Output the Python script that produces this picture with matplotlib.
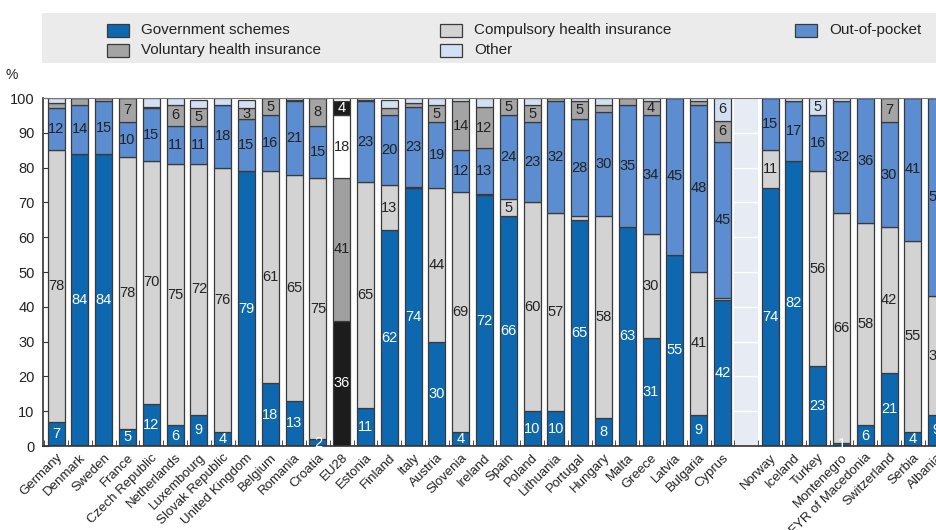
import matplotlib
matplotlib.use("Agg")
import matplotlib.pyplot as plt
from matplotlib.patches import Rectangle
import numpy as np

plt.rcParams['font.family'] = ['Liberation Sans Narrow', 'Liberation Sans', 'DejaVu Sans']

countries = ["Germany", "Denmark", "Sweden", "France", "Czech Republic", "Netherlands",
             "Luxembourg", "Slovak Republic", "United Kingdom", "Belgium", "Romania",
             "Croatia", "EU28", "Estonia", "Finland", "Italy", "Austria", "Slovenia",
             "Ireland", "Spain", "Poland", "Lithuania", "Portugal", "Hungary", "Malta",
             "Greece", "Latvia", "Bulgaria", "Cyprus",
             "Norway", "Iceland", "Turkey", "Montenegro", "FYR of Macedonia",
             "Switzerland", "Serbia", "Albania"]

government = [7, 84, 84, 5, 12, 6, 9, 4, 79, 18, 13, 2, 36, 11, 62, 74, 30, 4, 72, 66,
              10, 10, 65, 8, 63, 31, 55, 9, 42,
              74, 82, 23, 1, 6, 21, 4, 9]
compulsory = [78, 0, 0, 78, 70, 75, 72, 76, 0, 61, 65, 75, 41, 65, 13, 0.3, 44, 69, 0.5, 5,
              60, 57, 1, 58, 0, 30, 0, 41, 0.5,
              11, 0, 56, 66, 58, 42, 55, 34]
out_of_pocket = [12, 14, 15, 10, 15, 11, 11, 18, 15, 16, 21, 15, 18, 23, 20, 23, 19, 12, 13, 24,
                 23, 32, 28, 30, 35, 34, 45, 48, 45,
                 15, 17, 16, 32, 36, 30, 41, 57]
voluntary = [1.5, 2, 1, 7, 0.5, 6, 5, 0, 3, 5, 0.5, 8, 4, 0.3, 2, 1.2, 5, 14, 12, 5,
             5, 1, 5, 2, 2, 4, 0, 1, 6,
             0, 0, 0, 0, 0, 7, 0, 0]
other = [1.5, 0, 0, 0, 2.5, 2, 2.4, 2, 2.4, 0, 0.5, 0, 1, 0.7, 2.4, 1.5, 2, 1, 2.4, 0,
         2, 0, 1, 2, 0, 1, 0, 1, 6.5,
         0, 1, 5, 1, 0, 0, 0, 0]

series_names = ["Government schemes", "Compulsory health insurance", "Out-of-pocket",
                "Voluntary health insurance", "Other"]
colors = ["#0d68b0", "#d3d3d3", "#5b8dd0", "#a4a4a4", "#d3dff2"]
eu_colors = ["#1c1c1c", "#a0a0a0", "#ffffff", "#1c1c1c", "#ffffff"]
text_colors = ["white", "#222222", "#222222", "#222222", "#222222"]
eu_text_colors = ["white", "#222222", "#222222", "white", "#222222"]

W, H = 936, 530
fig = plt.figure(figsize=(W / 100, H / 100), dpi=100)

# positions: gap slot after Cyprus
n_eu = countries.index("Cyprus") + 1
pos = np.array([i if i < n_eu else i + 1 for i in range(len(countries))], dtype=float)
gap_pos = n_eu

xmin, xmax = -0.55, 38.5
ax_left = 43 / W
ax_bottom = (H - 446) / H
ax_h = (446 - 98) / H
ax_w = (xmax - xmin) * 23.8 / W
ax = fig.add_axes([ax_left, ax_bottom, ax_w, ax_h])

# separator band
ax.axvspan(gap_pos - 0.5, gap_pos + 0.5, color="#e7ecf4", zorder=0, lw=0)
for yv in range(10, 100, 10):
    ax.axhline(yv, color="white", lw=1, zorder=0.5)

data = [government, compulsory, out_of_pocket, voluntary, other]
bottom = np.zeros(len(countries))
width = 0.72
for s, vals in enumerate(data):
    vals = np.array(vals, dtype=float)
    cols = [eu_colors[s] if c == "EU28" else colors[s] for c in countries]
    ax.bar(pos, vals, width=width, bottom=bottom, color=cols, edgecolor="#3a3a3a",
           linewidth=0.9, zorder=2)
    for i, v in enumerate(vals):
        show = v >= 3 or (s == 0 and v >= 1)
        if show:
            tc = eu_text_colors[s] if countries[i] == "EU28" else text_colors[s]
            ax.text(pos[i], bottom[i] + v / 2, f"{int(round(v))}", ha="center", va="center",
                    fontsize=10.5, color=tc, zorder=3)
    bottom += vals

ax.set_xlim(xmin, xmax)
ax.set_ylim(0, 100)
ax.set_yticks(range(0, 101, 10))
ax.tick_params(axis="y", direction="in", length=4, labelsize=10.5, colors="#333333",
               labelcolor="#222222", pad=6)
ax.set_xticks(pos)
ax.set_xticklabels(countries, rotation=45, ha="right", rotation_mode="anchor", fontsize=9.5,
                   color="#222222")
ax.tick_params(axis="x", which="major", length=0, pad=4)
ax.set_xticks(np.arange(-0.5, 38.5, 1.0), minor=True)
ax.tick_params(axis="x", which="minor", direction="in", length=4, color="#333333")
for sp in ["left", "bottom"]:
    ax.spines[sp].set_color("#333333")
    ax.spines[sp].set_linewidth(1.2)
ax.spines["top"].set_color("#777777")
ax.spines["top"].set_linewidth(0.8)
ax.spines["right"].set_visible(False)

fig.text(12 / W, 1 - 75 / H, "%", fontsize=10, ha="center", va="center", color="#222222")

# legend box
fig.patches.append(Rectangle((42 / W, 1 - 63 / H), (936 - 42) / W, 50 / H,
                             transform=fig.transFigure, facecolor="#ebebeb",
                             edgecolor="none", zorder=0))
legend_items = [
    (0, 107, 30), (3, 107, 50),
    (1, 440, 30), (4, 440, 50),
    (2, 795, 30),
]
for s, x, y in legend_items:
    fig.patches.append(Rectangle((x / W, 1 - (y + 6.5) / H), 22 / W, 13 / H,
                                 transform=fig.transFigure, facecolor=colors[s],
                                 edgecolor="#3a3a3a", linewidth=0.9, zorder=1))
    fig.text((x + 34) / W, 1 - y / H, series_names[s], fontsize=11, ha="left",
             va="center", color="#222222")

fig.savefig("out.png", dpi=100)
